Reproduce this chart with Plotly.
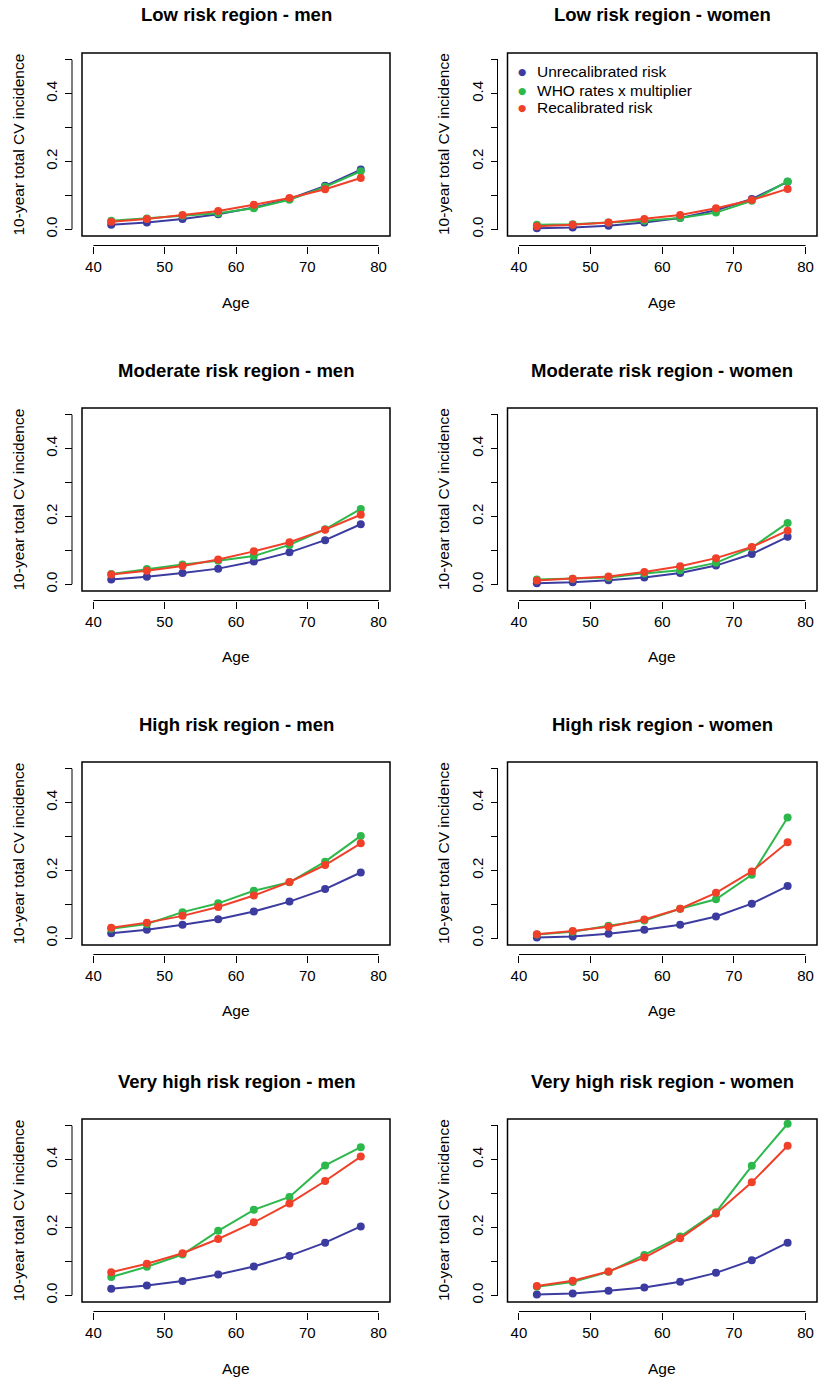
import plotly.graph_objects as go

# ---------------- data ----------------
ages = [42.5, 47.5, 52.5, 57.5, 62.5, 67.5, 72.5, 77.5]

titles = [
    "Low risk region - men", "Low risk region - women",
    "Moderate risk region - men", "Moderate risk region - women",
    "High risk region - men", "High risk region - women",
    "Very high risk region - men", "Very high risk region - women",
]

series_names = ["Unrecalibrated risk", "WHO rates x multiplier", "Recalibrated risk"]

low_men_unrecal = [0.013, 0.020, 0.030, 0.044, 0.064, 0.089, 0.128, 0.176]
low_men_who = [0.025, 0.032, 0.040, 0.047, 0.062, 0.087, 0.125, 0.171]
low_men_recal = [0.022, 0.030, 0.042, 0.054, 0.072, 0.092, 0.118, 0.151]

low_women_unrecal = [0.003, 0.005, 0.010, 0.020, 0.033, 0.056, 0.089, 0.140]
low_women_who = [0.013, 0.015, 0.020, 0.025, 0.033, 0.049, 0.084, 0.141]
low_women_recal = [0.009, 0.013, 0.020, 0.030, 0.042, 0.062, 0.086, 0.119]

mod_men_unrecal = [0.014, 0.022, 0.033, 0.046, 0.067, 0.094, 0.130, 0.177]
mod_men_who = [0.030, 0.045, 0.058, 0.069, 0.083, 0.116, 0.162, 0.222]
mod_men_recal = [0.029, 0.040, 0.054, 0.073, 0.097, 0.124, 0.161, 0.205]

mod_women_unrecal = [0.003, 0.006, 0.012, 0.020, 0.033, 0.055, 0.089, 0.140]
mod_women_who = [0.014, 0.016, 0.020, 0.032, 0.041, 0.063, 0.108, 0.181]
mod_women_recal = [0.011, 0.016, 0.023, 0.036, 0.053, 0.077, 0.110, 0.158]

high_men_unrecal = [0.015, 0.025, 0.040, 0.056, 0.079, 0.108, 0.145, 0.194]
high_men_who = [0.028, 0.042, 0.077, 0.103, 0.140, 0.165, 0.226, 0.302]
high_men_recal = [0.031, 0.046, 0.066, 0.092, 0.126, 0.166, 0.216, 0.280]

high_women_unrecal = [0.002, 0.005, 0.013, 0.025, 0.040, 0.064, 0.102, 0.154]
high_women_who = [0.011, 0.019, 0.037, 0.052, 0.087, 0.115, 0.187, 0.356]
high_women_recal = [0.012, 0.021, 0.034, 0.055, 0.087, 0.134, 0.197, 0.283]

vhigh_men_unrecal = [0.019, 0.029, 0.042, 0.061, 0.085, 0.116, 0.155, 0.203]
vhigh_men_who = [0.054, 0.084, 0.120, 0.190, 0.252, 0.290, 0.383, 0.437]
vhigh_men_recal = [0.068, 0.093, 0.124, 0.166, 0.215, 0.271, 0.337, 0.409]

vhigh_women_unrecal = [0.002, 0.005, 0.013, 0.023, 0.040, 0.066, 0.103, 0.155]
vhigh_women_who = [0.025, 0.039, 0.069, 0.119, 0.173, 0.245, 0.382, 0.506]
vhigh_women_recal = [0.027, 0.043, 0.070, 0.111, 0.168, 0.241, 0.333, 0.441]

panels = [
    (low_men_unrecal, low_men_who, low_men_recal),
    (low_women_unrecal, low_women_who, low_women_recal),
    (mod_men_unrecal, mod_men_who, mod_men_recal),
    (mod_women_unrecal, mod_women_who, mod_women_recal),
    (high_men_unrecal, high_men_who, high_men_recal),
    (high_women_unrecal, high_women_who, high_women_recal),
    (vhigh_men_unrecal, vhigh_men_who, vhigh_men_recal),
    (vhigh_women_unrecal, vhigh_women_who, vhigh_women_recal),
]

x_tickvals = [40, 50, 60, 70, 80]
x_ticktext = ["40", "50", "60", "70", "80"]
y_tickvals = [0.0, 0.1, 0.2, 0.3, 0.4, 0.5]
y_ticktext = ["0.0", "", "0.2", "", "0.4", ""]

x_title = "Age"
y_title = "10-year total CV incidence"

# ---------------- style / layout ----------------
colors = ["#3b3ba0", "#2db84b", "#f0402a"]
FONT = "Liberation Sans, Arial, Helvetica, sans-serif"
W, H = 818, 1379

col_px = [(82, 390), (507.5, 817)]
row_top_px = [53, 408, 762, 1119]
box_h = 183
axis_off = 9.5

fig = go.Figure()
layout = dict(
    width=W, height=H,
    margin=dict(l=0, r=0, t=0, b=0),
    paper_bgcolor="white", plot_bgcolor="white",
    showlegend=False,
    font=dict(family=FONT, color="black"),
)
shapes = []
annotations = []

for i, (title, vals) in enumerate(zip(titles, panels)):
    r, c = divmod(i, 2)
    k = i + 1
    xa = "x" if k == 1 else f"x{k}"
    ya = "y" if k == 1 else f"y{k}"
    xl = "xaxis" if k == 1 else f"xaxis{k}"
    yl = "yaxis" if k == 1 else f"yaxis{k}"
    left, right = col_px[c]
    top = row_top_px[r]
    bottom = top + box_h
    xdom = [left / W, right / W]
    ydom = [1 - bottom / H, 1 - top / H]
    xpos = 1 - (bottom + axis_off) / H
    ypos = (left - axis_off - 0.5) / W

    layout[xl] = dict(
        domain=xdom, range=[38.4, 81.6], anchor="free", position=xpos,
        tickvals=x_tickvals, ticktext=x_ticktext, ticks="outside", ticklen=7,
        tickwidth=1, tickcolor="black", showgrid=False, zeroline=False,
        showline=False, tickfont=dict(size=15, family=FONT, color="black"),
        ticklabelstandoff=0,
    )
    layout[yl] = dict(
        domain=ydom, range=[-0.02, 0.52], anchor="free", position=ypos,
        tickvals=y_tickvals, ticktext=y_ticktext, ticks="outside", ticklen=7,
        tickwidth=1, tickcolor="black", showgrid=False, zeroline=False,
        showline=False, tickangle=-90,
        tickfont=dict(size=15, family=FONT, color="black"),
        ticklabelstandoff=2,
    )

    for s, (name, ys) in enumerate(zip(series_names, vals)):
        fig.add_trace(go.Scatter(
            x=ages, y=ys, mode="lines+markers", name=name,
            line=dict(color=colors[s], width=2),
            marker=dict(color=colors[s], size=8),
            xaxis=xa, yaxis=ya, showlegend=False,
        ))

    # box
    shapes.append(dict(type="rect", xref=f"{xa} domain", yref=f"{ya} domain",
                       x0=0, x1=1, y0=0, y1=1, line=dict(color="black", width=1.5)))
    # offset axis lines spanning first to last tick
    shapes.append(dict(type="line", xref=xa, yref="paper",
                       x0=min(x_tickvals), x1=max(x_tickvals), y0=xpos, y1=xpos,
                       line=dict(color="black", width=1)))
    shapes.append(dict(type="line", xref="paper", yref=ya,
                       x0=ypos, x1=ypos, y0=min(y_tickvals), y1=max(y_tickvals),
                       line=dict(color="black", width=1)))

    cx = (left + right) / 2 / W
    annotations.append(dict(text=f"<b>{title}</b>", x=cx, y=1 - (top - 38) / H,
                            xref="paper", yref="paper", xanchor="center", yanchor="middle",
                            showarrow=False, font=dict(size=18.5, family=FONT, color="black")))
    annotations.append(dict(text=x_title, x=cx, y=1 - (bottom + 66) / H,
                            xref="paper", yref="paper", xanchor="center", yanchor="middle",
                            showarrow=False, font=dict(size=15.5, family=FONT, color="black")))
    annotations.append(dict(text=y_title, x=(left - 64) / W, y=1 - (top + box_h / 2) / H,
                            xref="paper", yref="paper", xanchor="center", yanchor="middle",
                            textangle=-90, showarrow=False,
                            font=dict(size=15.5, family=FONT, color="black")))

# legend (drawn in the "Low risk region - women" panel), R-style: dots + labels
leg_left = col_px[1][0]
leg_top = row_top_px[0]
for s, name in enumerate(series_names):
    yc = 1 - (leg_top + 19 + 18 * s) / H
    annotations.append(dict(text="\u25CF", x=(leg_left + 14.5) / W, y=yc,
                            xref="paper", yref="paper", xanchor="center", yanchor="middle",
                            showarrow=False,
                            font=dict(size=9.5, family="DejaVu Sans", color=colors[s])))
    annotations.append(dict(text=name, x=(leg_left + 27) / W, y=yc,
                            xref="paper", yref="paper", xanchor="left", yanchor="middle",
                            showarrow=False,
                            font=dict(size=15.5, family=FONT, color="black")))

layout["shapes"] = shapes
layout["annotations"] = annotations
fig.update_layout(**layout)

fig.write_html("out.html")
